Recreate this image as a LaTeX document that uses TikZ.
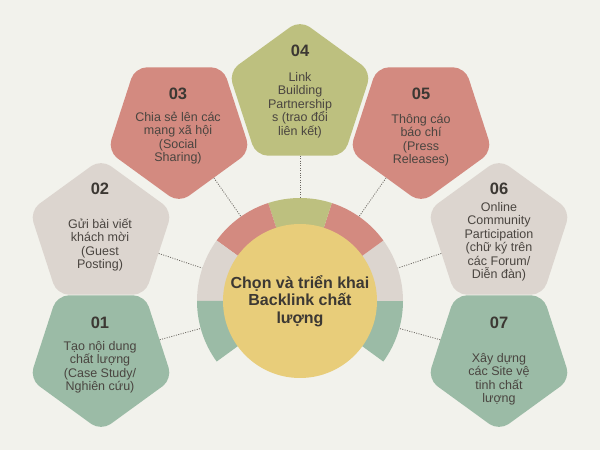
\documentclass[tikz,border=0pt]{standalone}
\usepackage{fontspec}
\setmainfont{Liberation Sans}
\usetikzlibrary{shapes.geometric}
\definecolor{bg}{HTML}{F2F2EC}
\definecolor{cgreen}{HTML}{9BBBA6}
\definecolor{cbeige}{HTML}{DCD5CF}
\definecolor{cred}{HTML}{D38A80}
\definecolor{colive}{HTML}{BDC07F}
\definecolor{cyellow}{HTML}{E8CD7A}
\definecolor{txt}{HTML}{3C3833}
\definecolor{bodytxt}{HTML}{4A4540}
\definecolor{dotc}{HTML}{6A6660}
\begin{document}
\begin{tikzpicture}[x=1pt,y=1pt,
 pent/.style={regular polygon, regular polygon sides=5, minimum size=150pt, inner sep=0pt, rounded corners=12pt},
 pentdown/.style={pent, shape border rotate=180},
 num/.style={font=\bfseries\fontsize{16.5}{18}\selectfont, text=txt, inner sep=0pt},
 body/.style={font=\fontsize{12.5}{13.5}\selectfont, text=bodytxt, align=center, inner sep=0pt},
 conn/.style={draw=dotc, dash pattern=on 1pt off 1.4pt, line width=0.8pt},
 hub/.style={circle, fill=cyellow, minimum size=154pt, inner sep=0pt, align=center, text=txt, font=\bfseries\fontsize{16}{17.5}\selectfont},
 ringnode/.style={circle, minimum size=206pt, inner sep=0pt}]
\fill[bg] (0,0) rectangle (600,450);
\useasboundingbox (0,0) rectangle (600,450);
\coordinate (C) at (300,149);
% ring segments
\fill[cgreen] (C) -- ++(-36:103) arc[start angle=-36,end angle=0,radius=103] -- cycle;
\fill[cbeige] (C) -- ++(0:103) arc[start angle=0,end angle=36,radius=103] -- cycle;
\fill[cred] (C) -- ++(36:103) arc[start angle=36,end angle=72,radius=103] -- cycle;
\fill[colive] (C) -- ++(72:103) arc[start angle=72,end angle=108,radius=103] -- cycle;
\fill[cred] (C) -- ++(108:103) arc[start angle=108,end angle=144,radius=103] -- cycle;
\fill[cbeige] (C) -- ++(144:103) arc[start angle=144,end angle=180,radius=103] -- cycle;
\fill[cgreen] (C) -- ++(180:103) arc[start angle=180,end angle=216,radius=103] -- cycle;
\node[ringnode] (ring) at (C) {};
\node[hub] (hub) at (C) {Chọn và triển khai\\Backlink chất\\lượng};
% pentagons
\node[pentdown, fill=cgreen] (p1) at (101,94) {};
\node[pent, fill=cbeige] (p2) at (101,216) {};
\node[pentdown, fill=cred] (p3) at (179,322) {};
\node[pent, fill=colive] (p4) at (300,355) {};
\node[pentdown, fill=cred] (p5) at (421,322) {};
\node[pent, fill=cbeige] (p6) at (499,216) {};
\node[pentdown, fill=cgreen] (p7) at (499,94) {};
% numbers
\node[num] (n1) at (100,127) {01};
\node[num] (n2) at (100,261) {02};
\node[num] (n3) at (178,356) {03};
\node[num] (n4) at (300,399) {04};
\node[num] (n5) at (421,356) {05};
\node[num] (n6) at (499,261) {06};
\node[num] (n7) at (499,127) {07};
% texts
\node[body] (t1) at (100,83) {Tạo nội dung\\chất lượng\\(Case Study/\\Nghiên cứu)};
\node[body] (t2) at (100,205) {Gửi bài viết\\khách mời\\(Guest\\Posting)};
\node[body] (t3) at (178,312) {Chia sẻ lên các\\mạng xã hội\\(Social\\Sharing)};
\node[body] (t4) at (300,345) {Link\\Building\\Partnership\\s (trao đổi\\liên kết)};
\node[body] (t5) at (421,310) {Thông cáo\\báo chí\\(Press\\Releases)};
\node[body] (t6) at (499,208) {Online\\Community\\Participation\\(chữ ký trên\\các Forum/\\Diễn đàn)};
\node[body] (t7) at (499,71) {Xây dựng\\các Site vệ\\tinh chất\\lượng};
% connectors
\foreach \p in {p1,p2,p3,p4,p5,p6,p7} {\draw[conn] (\p) -- (ring);}
\end{tikzpicture}
\end{document}
